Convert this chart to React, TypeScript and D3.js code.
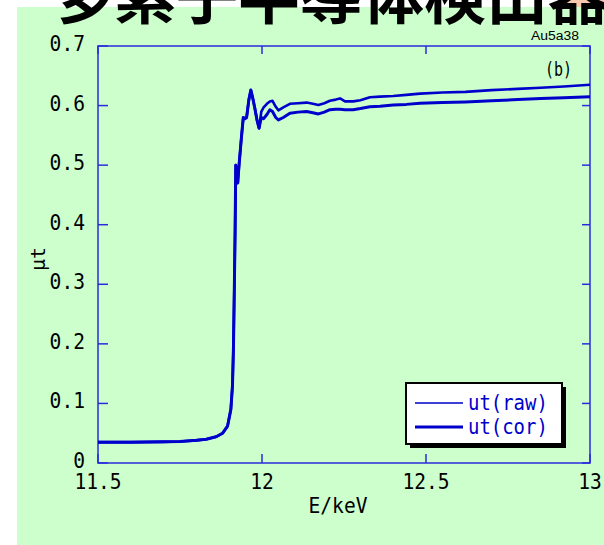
import React from "react";
import * as d3 from "d3";

// photon energy (keV), shared by both series
const energy = [
  11.5, 11.6, 11.7, 11.75, 11.8, 11.83, 11.86, 11.88, 11.895, 11.905, 11.91,
  11.913, 11.916, 11.918, 11.92, 11.923, 11.926, 11.93, 11.937, 11.943, 11.948,
  11.953, 11.96, 11.966, 11.972, 11.978, 11.985, 11.991, 11.998, 12.005, 12.015,
  12.024, 12.032, 12.042, 12.05, 12.065, 12.085, 12.11, 12.136, 12.155, 12.172,
  12.19, 12.207, 12.225, 12.238, 12.253, 12.278, 12.3, 12.329, 12.36, 12.4,
  12.44, 12.482, 12.55, 12.62, 12.7, 12.78, 12.85, 12.92, 13.0,
];

const utRaw = [
  0.035, 0.035, 0.0355, 0.036, 0.038, 0.04, 0.044, 0.05, 0.062, 0.09, 0.13,
  0.195, 0.307, 0.39, 0.5, 0.48, 0.47, 0.5, 0.545, 0.58, 0.578,
  0.58, 0.61, 0.626, 0.612, 0.596, 0.575, 0.562, 0.59, 0.597, 0.603,
  0.607, 0.608, 0.598, 0.592, 0.597, 0.603, 0.604, 0.605, 0.603, 0.601,
  0.604, 0.608, 0.61, 0.612, 0.607, 0.607, 0.609, 0.614, 0.615, 0.616,
  0.618, 0.62, 0.622, 0.623, 0.626, 0.628, 0.63, 0.632, 0.635,
];

const utCor = [
  0.035, 0.035, 0.0355, 0.036, 0.038, 0.04, 0.044, 0.05, 0.062, 0.09, 0.13,
  0.195, 0.307, 0.39, 0.5, 0.48, 0.47, 0.5, 0.545, 0.58, 0.578,
  0.58, 0.61, 0.626, 0.612, 0.596, 0.575, 0.562, 0.58, 0.578, 0.585,
  0.593, 0.59, 0.58, 0.576, 0.58, 0.587, 0.589, 0.59, 0.588, 0.586,
  0.589, 0.593, 0.594, 0.594, 0.593, 0.593, 0.595, 0.598, 0.599, 0.601,
  0.602, 0.604, 0.605, 0.606, 0.608, 0.61, 0.612, 0.613, 0.615,
];

const xTicks = [11.5, 12, 12.5, 13];
const xTickLabels = ["11.5", "12", "12.5", "13"];
const yTicks = [0, 0.1, 0.2, 0.3, 0.4, 0.5, 0.6, 0.7];
const yTickLabels = ["0", "0.1", "0.2", "0.3", "0.4", "0.5", "0.6", "0.7"];
const legendLabels = ["ut(raw)", "ut(cor)"];

const W = 604;
const H = 545;
const left = 98;
const right = 590;
const top = 46;
const bottom = 463;

const frameColor = "#2b2bdd";
const lineColor = "#0000cc";
const mono = "'DejaVu Sans Mono', monospace";
const charW = 11.8;

export default function App() {
  const x = d3.scaleLinear().domain([11.5, 13]).range([left, right]);
  const y = d3.scaleLinear().domain([0, 0.7]).range([bottom, top]);

  const line = d3
    .line<number>()
    .x((_, i) => x(energy[i]))
    .y((d) => y(d));

  const lgX = 406;
  const lgY = 383;
  const lgW = 156;
  const lgH = 61;

  return (
    <svg
      width={W}
      height={H}
      style={{ position: "absolute", left: 0, top: 0 }}
    >
      <rect x={0} y={0} width={W} height={H} fill="#ffffff" />
      <rect x={558} y={0} width={46} height={8} fill="#f8c8ac" />
      <rect x={17} y={7} width={W - 17} height={H - 7} fill="#ccffcc" />

      {/* title, clipped by the top edge */}
      <text
        x={52}
        y={19}
        fontFamily="'Noto Sans CJK JP', sans-serif"
        fontWeight="bold"
        fontSize={62}
        fill="#000"
      >
        多素子半導体検出器
      </text>

      <text
        x={531}
        y={40}
        fontFamily="'Liberation Sans', sans-serif"
        fontSize={12}
        textLength={48}
        lengthAdjust="spacingAndGlyphs"
      >
        Au5a38
      </text>

      {/* frame */}
      <rect
        x={left}
        y={top}
        width={right - left}
        height={bottom - top}
        fill="none"
        stroke={frameColor}
        strokeWidth={1.5}
      />

      {/* y ticks */}
      {yTicks.map((t, i) => (
        <g key={"y" + i}>
          <line x1={left} x2={left + 10} y1={y(t)} y2={y(t)} stroke={frameColor} strokeWidth={1.5} />
          <line x1={right} x2={right - 8} y1={y(t)} y2={y(t)} stroke={frameColor} strokeWidth={1.5} />
          <text
            x={85}
            y={y(t) + 5}
            textAnchor="end"
            fontFamily={mono}
            fontSize={22}
            textLength={yTickLabels[i].length * charW}
            lengthAdjust="spacingAndGlyphs"
          >
            {yTickLabels[i]}
          </text>
        </g>
      ))}

      {/* x ticks */}
      {xTicks.map((t, i) => (
        <g key={"x" + i}>
          <line x1={x(t)} x2={x(t)} y1={bottom} y2={bottom - 9} stroke={frameColor} strokeWidth={1.5} />
          <line x1={x(t)} x2={x(t)} y1={top} y2={top + 8} stroke={frameColor} strokeWidth={1.5} />
          <text
            x={x(t)}
            y={489}
            textAnchor="middle"
            fontFamily={mono}
            fontSize={22}
            textLength={xTickLabels[i].length * charW}
            lengthAdjust="spacingAndGlyphs"
          >
            {xTickLabels[i]}
          </text>
        </g>
      ))}

      <text
        x={338}
        y={513}
        textAnchor="middle"
        fontFamily={mono}
        fontSize={22}
        textLength={5 * charW}
        lengthAdjust="spacingAndGlyphs"
      >
        E/keV
      </text>

      <text
        transform="translate(45,259) rotate(-90)"
        textAnchor="middle"
        fontFamily={mono}
        fontSize={20}
      >
        μt
      </text>

      <text
        x={572}
        y={76}
        textAnchor="end"
        fontFamily={mono}
        fontSize={20}
        textLength={27}
        lengthAdjust="spacingAndGlyphs"
      >
        (b)
      </text>

      {/* data */}
      <path d={line(utCor) ?? ""} fill="none" stroke={lineColor} strokeWidth={3} strokeLinejoin="round" />
      <path d={line(utRaw) ?? ""} fill="none" stroke={lineColor} strokeWidth={2.6} strokeLinejoin="round" />

      {/* legend */}
      <rect x={lgX + 4} y={lgY + 4} width={lgW} height={lgH} fill="#000" />
      <rect x={lgX} y={lgY} width={lgW} height={lgH} fill="#fff" stroke="#000" strokeWidth={2} />
      {legendLabels.map((l, i) => (
        <g key={l}>
          <line
            x1={lgX + 9}
            x2={lgX + 57}
            y1={lgY + 20 + i * 24}
            y2={lgY + 20 + i * 24}
            stroke={lineColor}
            strokeWidth={i === 0 ? 1.5 : 3}
          />
          <text
            x={lgX + 62}
            y={lgY + 27 + i * 24}
            fontFamily={mono}
            fontSize={21}
            fill={lineColor}
            textLength={l.length * 11.4}
            lengthAdjust="spacingAndGlyphs"
          >
            {l}
          </text>
        </g>
      ))}
    </svg>
  );
}
